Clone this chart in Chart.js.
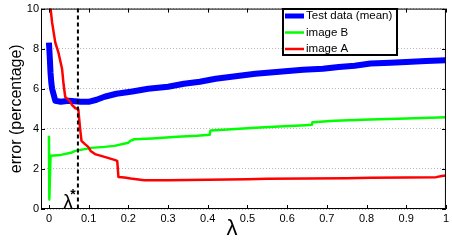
<!DOCTYPE html>
<html>
<head>
<meta charset="utf-8">
<script src="https://cdn.jsdelivr.net/npm/chart.js@4"></script>
<style>
  body { margin: 0; background: #fff; }
  canvas { display: block; }
</style>
</head>
<body>
<canvas id="errChart" width="452" height="242"></canvas>
<script>
const xTicks = [0, 0.1, 0.2, 0.3, 0.4, 0.5, 0.6, 0.7, 0.8, 0.9, 1];
const yTicks = [0, 2, 4, 6, 8, 10];
const lambdaStar = 0.073;

const testX = [0, 0.002, 0.004, 0.006, 0.008, 0.012, 0.016, 0.03, 0.05, 0.08, 0.1, 0.12, 0.14, 0.17, 0.21, 0.25, 0.3, 0.34, 0.38, 0.42, 0.46, 0.52, 0.58, 0.64, 0.69, 0.73, 0.77, 0.81, 0.86, 0.9, 0.95, 1.0];
const testY = [8.3, 7.6, 6.8, 6.3, 6.0, 5.7, 5.4, 5.35, 5.4, 5.35, 5.35, 5.45, 5.6, 5.75, 5.86, 6.0, 6.1, 6.25, 6.35, 6.5, 6.6, 6.75, 6.85, 6.95, 7.0, 7.09, 7.15, 7.26, 7.3, 7.34, 7.38, 7.42];

const imgBX = [0, 0.001, 0.004, 0.03, 0.058, 0.066, 0.107, 0.14, 0.165, 0.2, 0.205, 0.215, 0.26, 0.323, 0.373, 0.405, 0.407, 0.45, 0.52, 0.58, 0.646, 0.662, 0.664, 0.72, 0.81, 0.9, 1.0];
const imgBY = [3.65, 0.48, 2.66, 2.7, 2.82, 2.9, 3.05, 3.1, 3.15, 3.31, 3.4, 3.48, 3.52, 3.6, 3.65, 3.7, 3.92, 3.97, 4.05, 4.12, 4.18, 4.2, 4.33, 4.4, 4.47, 4.52, 4.58];

const imgAX = [0.003, 0.008, 0.016, 0.024, 0.033, 0.037, 0.041, 0.053, 0.058, 0.066, 0.074, 0.078, 0.082, 0.09, 0.099, 0.105, 0.116, 0.14, 0.165, 0.172, 0.175, 0.19, 0.206, 0.24, 0.3, 0.4, 0.5, 0.55, 0.65, 0.75, 0.81, 0.9, 0.975, 0.99, 1.0];
const imgAY = [10.2, 9.3, 8.3, 7.8, 7.0, 6.2, 5.6, 5.37, 5.2, 5.04, 4.97, 4.1, 3.4, 3.25, 3.1, 2.9, 2.74, 2.6, 2.45, 2.4, 1.6, 1.57, 1.52, 1.43, 1.44, 1.46, 1.48, 1.51, 1.52, 1.53, 1.56, 1.57, 1.59, 1.65, 1.67];

const pts = (xs, ys) => xs.map((x, i) => ({ x: x, y: ys[i] }));

Chart.defaults.font.family = "'Liberation Sans', Arial, sans-serif";
Chart.defaults.color = '#000';

// box, inward ticks, lambda* marker, legend and axis symbol
const framePlugin = {
  id: 'frame',
  afterDatasetsDraw(chart) {
    const ctx = chart.ctx;
    const a = chart.chartArea;
    const xs = chart.scales.x, ys = chart.scales.y;
    ctx.save();

    // dashed lambda* line
    const lx = xs.getPixelForValue(lambdaStar);
    ctx.strokeStyle = '#000';
    ctx.lineWidth = 2;
    ctx.setLineDash([4, 3]);
    ctx.beginPath();
    ctx.moveTo(lx, a.top);
    ctx.lineTo(lx, a.bottom);
    ctx.stroke();
    ctx.setLineDash([]);

    // frame
    ctx.lineWidth = 1;
    ctx.strokeRect(a.left + 0.5, a.top + 0.5, a.right - a.left - 1, a.bottom - a.top - 1);
    ctx.beginPath();
    xTicks.forEach(v => {
      const px = Math.round(xs.getPixelForValue(v)) + 0.5;
      ctx.moveTo(px, a.bottom); ctx.lineTo(px, a.bottom - 4);
      ctx.moveTo(px, a.top); ctx.lineTo(px, a.top + 4);
    });
    yTicks.forEach(v => {
      const py = Math.round(ys.getPixelForValue(v)) + 0.5;
      ctx.moveTo(a.left, py); ctx.lineTo(a.left + 4, py);
      ctx.moveTo(a.right, py); ctx.lineTo(a.right - 4, py);
    });
    ctx.stroke();

    // lambda* label
    ctx.fillStyle = '#000';
    ctx.textAlign = 'center';
    ctx.textBaseline = 'alphabetic';
    ctx.font = "20px 'Liberation Sans', Arial, sans-serif";
    ctx.fillText('λ', lx - 10, a.bottom);
    ctx.font = "bold 14px 'Liberation Sans', Arial, sans-serif";
    ctx.fillText('*', lx - 5, a.bottom - 10);

    // x axis symbol
    ctx.font = "22px 'Liberation Sans', Arial, sans-serif";
    ctx.fillText('λ', 232, 235);

    // legend
    const lg = { x: 283, y: 9, w: 114, h: 46 };
    ctx.fillStyle = '#fff';
    ctx.fillRect(lg.x, lg.y, lg.w, lg.h);
    ctx.lineWidth = 2;
    ctx.strokeStyle = '#000';
    ctx.strokeRect(lg.x, lg.y, lg.w, lg.h);
    ctx.font = "11.5px 'Liberation Sans', Arial, sans-serif";
    ctx.textAlign = 'left';
    ctx.textBaseline = 'middle';
    chart.data.datasets.forEach((ds, i) => {
      const cy = lg.y + 7 + i * 16.5;
      ctx.strokeStyle = ds.borderColor;
      ctx.lineWidth = i === 0 ? 5 : 2.5;
      ctx.beginPath();
      ctx.moveTo(lg.x + 2, cy);
      ctx.lineTo(lg.x + 21, cy);
      ctx.stroke();
      ctx.fillStyle = '#000';
      ctx.fillText(ds.label, lg.x + 23, cy);
    });
    ctx.restore();
  }
};

new Chart(document.getElementById('errChart'), {
  type: 'scatter',
  data: {
    datasets: [
      { label: 'Test data (mean)', data: pts(testX, testY), borderColor: '#0000ff', borderWidth: 6, order: 3 },
      { label: 'image B', data: pts(imgBX, imgBY), borderColor: '#00ff00', borderWidth: 2.5, order: 2 },
      { label: 'image A', data: pts(imgAX, imgAY), borderColor: '#ff0000', borderWidth: 2.5, order: 1 }
    ].map(d => Object.assign(d, { showLine: true, pointRadius: 0, tension: 0, fill: false, borderJoinStyle: 'round' }))
  },
  options: {
    responsive: false,
    animation: false,
    layout: { padding: { left: 0, right: 1, top: 6, bottom: 0 } },
    plugins: { legend: { display: false }, tooltip: { enabled: false } },
    scales: {
      x: {
        type: 'linear',
        min: -0.02,
        max: 1,
        afterBuildTicks: s => { s.ticks = xTicks.map(v => ({ value: v })); },
        afterFit: s => { s.height = 33; },
        ticks: { font: { size: 11 }, padding: 3, maxRotation: 0, callback: v => String(v) },
        grid: { display: false, drawTicks: false },
        border: { display: false }
      },
      y: {
        min: 0,
        max: 10,
        afterBuildTicks: s => { s.ticks = yTicks.map(v => ({ value: v })); },
        afterFit: s => { s.width = 41; },
        ticks: { font: { size: 11 }, padding: 2, callback: v => String(v) },
        grid: { color: '#b8b8b8', drawTicks: false, lineWidth: 1 },
        border: { display: false, dash: [1, 2] },
        title: { display: true, text: 'error (percentage)', font: { size: 16 }, padding: { top: 7, bottom: 0 } }
      }
    }
  },
  plugins: [framePlugin]
});
</script>
</body>
</html>
